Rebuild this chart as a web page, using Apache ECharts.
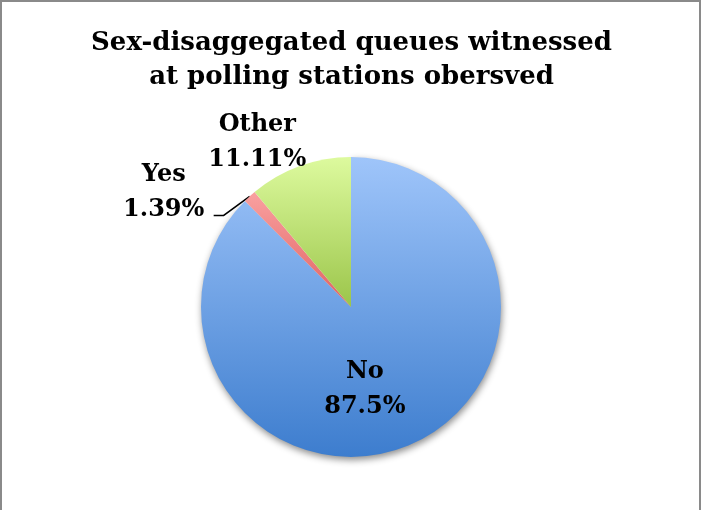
<!DOCTYPE html>
<html>
<head>
<meta charset="utf-8">
<script src="https://cdn.jsdelivr.net/npm/echarts@6/dist/echarts.min.js"></script>
<style>
  html, body { margin: 0; padding: 0; background: #fff; }
  #main { width: 703px; height: 510px; }
</style>
</head>
<body>
<div id="main"></div>
<script>
var categories = ['No', 'Yes', 'Other'];
var shares = [87.5, 1.39, 11.11];      // percent
var shareLabels = ['87.5%', '1.39%', '11.11%'];

var chart = echarts.init(document.getElementById('main'));

function grad(top, bottom) {
    return new echarts.graphic.LinearGradient(0, 0, 0, 1, [
        {offset: 0, color: top},
        {offset: 1, color: bottom}
    ]);
}
var fills = [grad('#9fc5fa', '#3d7dce'), grad('#f9a0a0', '#e06262'), grad('#ddfa9e', '#9bc54a')];

var pieData = categories.map(function (c, i) {
    return {name: c, value: shares[i], itemStyle: {color: fills[i]}};
});
// only the big slice casts the drop shadow, so the small ones don't darken it
pieData[0].itemStyle.shadowBlur = 7;
pieData[0].itemStyle.shadowOffsetX = 1;
pieData[0].itemStyle.shadowOffsetY = 3;
pieData[0].itemStyle.shadowColor = 'rgba(0,0,0,0.45)';
// No and Other are placed from the inside spot (no leader line), only Yes gets one
pieData[0].label = {position: 'inside'};
pieData[2].label = {position: 'inside'};

var font = '"DejaVu Serif", serif';

var option = {
    backgroundColor: '#fff',
    animation: false,
    graphic: [{
        type: 'rect',
        shape: {x: 1, y: 1, width: 699, height: 600},
        style: {fill: 'none', stroke: '#8a8a8a', lineWidth: 2},
        silent: true
    }],
    title: {
        text: 'Sex-disaggegated queues witnessed\nat polling stations obersved',
        left: 'center',
        top: 21,
        textStyle: {
            fontFamily: font,
            fontWeight: 'bold',
            fontSize: 26,
            lineHeight: 34,
            color: '#000'
        }
    },
    series: [{
        type: 'pie',
        center: [351, 307],
        radius: 150,
        startAngle: 90,
        clockwise: true,
        itemStyle: {borderWidth: 0},
        label: {
            show: true,
            position: 'outside',
            formatter: function (p) { return p.name + '\n' + shareLabels[p.dataIndex]; },
            fontFamily: font,
            fontWeight: 'bold',
            fontSize: 24,
            lineHeight: 35,
            color: '#000',
            align: 'center'
        },
        labelLine: {
            show: true,
            length: 28,
            length2: 14,
            lineStyle: {color: '#000', width: 1.5}
        },
        labelLayout: function (p) {
            if (p.dataIndex === 0) return {dx: -16, dy: 10, align: 'center'};
            if (p.dataIndex === 1) {
                // leader line drops down-left from the slice edge, like the original
                var a = p.labelLinePoints[0];
                var b = [a[0] - 26, a[1] + 19];
                var c = [b[0] - 10, b[1]];
                return {dx: -48, dy: 17, align: 'center', labelLinePoints: [a, b, c]};
            }
            return {dx: -67, dy: -91, align: 'center'};
        },
        data: pieData
    }]
};
chart.setOption(option);
</script>
</body>
</html>
